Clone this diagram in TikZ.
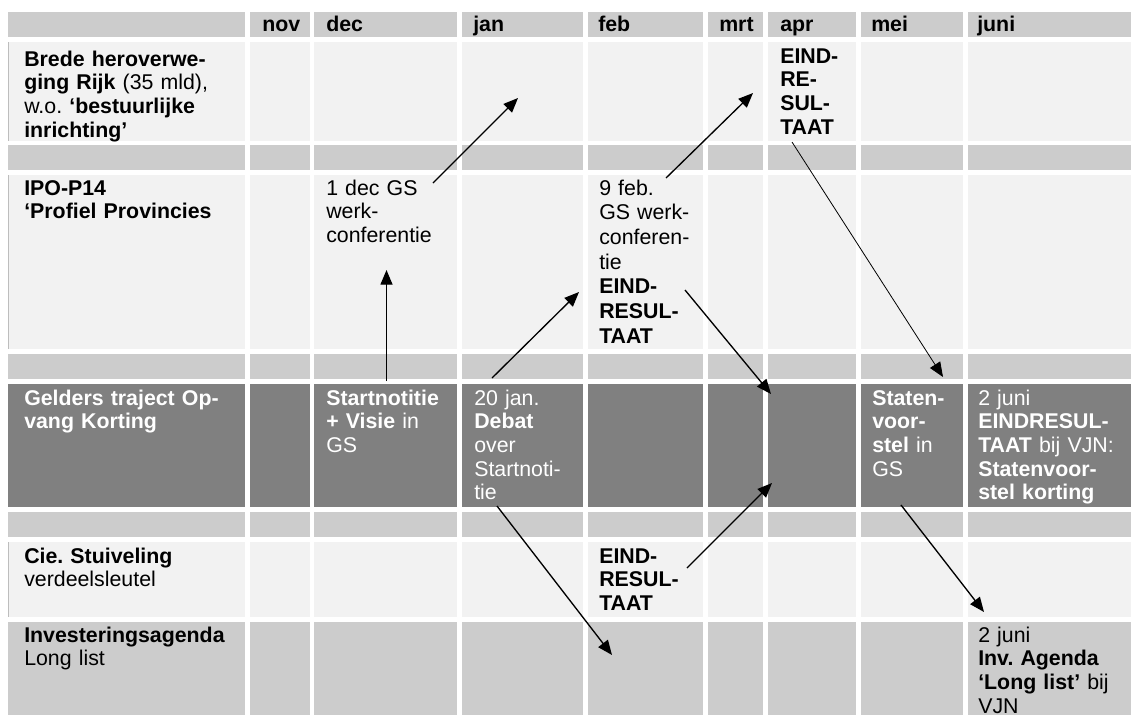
\documentclass[tikz,border=0pt]{standalone}
\usepackage{fontspec}
\setmainfont{Liberation Sans}
\usetikzlibrary{arrows.meta}
\definecolor{cLight}{HTML}{F2F2F2}
\definecolor{cMid}{HTML}{CCCCCC}
\definecolor{cDark}{HTML}{808080}
\definecolor{cEdge}{HTML}{BDBDBD}
\frenchspacing
\tikzset{
  celltext/.style={anchor=base west, inner sep=0pt, text width=300pt, align=left,
    font=\frenchspacing\fontsize{16}{17.8}\selectfont, text=black},
  hdrtext/.style={celltext, font=\bfseries\fontsize{16}{17.8}\selectfont},
  wtext/.style={celltext, text=white},
  loosetext/.style={celltext, font=\frenchspacing\fontsize{16}{18.5}\selectfont},
  conn/.style={line width=1pt, draw=black, -{Triangle[length=11pt,width=9pt]}},
  thinconn/.style={conn, line width=0.6pt},
}
\begin{document}
\begin{tikzpicture}[x=0.75pt,y=-0.75pt]
\useasboundingbox (0,0) rectangle (1131,715);
\clip (0,0) rectangle (1131,715);
\fill[white] (0,0) rectangle (1131,715);
% grid cells
\foreach \xa/\xb in {8/245,250/310,314/457,462/583,588/703,708/763,768/856,861/963,968/1131} {
  \foreach \ya/\yb/\c in {12/37/cMid,42/141/cLight,145/170/cMid,175/349/cLight,354/379/cMid,384/507/cDark,512/537/cMid,542/617/cLight,622/715/cMid}
    \fill[\c] (\xa,\ya) rectangle (\xb,\yb);
}
\foreach \ya/\yb in {42/141,175/349,542/617}
  \fill[cEdge] (8,\ya) rectangle (9.3,\yb);
% header
\node[hdrtext] (hnov)  at (262,31) {nov};
\node[hdrtext] (hdec)  at (326,31) {dec};
\node[hdrtext] (hjan)  at (473,31) {jan};
\node[hdrtext] (hfeb)  at (598,31) {feb};
\node[hdrtext] (hmrt)  at (719,31) {mrt};
\node[hdrtext] (hapr)  at (780,31) {apr};
\node[hdrtext] (hmei)  at (871,31) {mei};
\node[hdrtext] (hjuni) at (977,31) {juni};
% row 1
\node[celltext] (r1l) at (24,66) {\textbf{Brede heroverwe-}\\\textbf{ging Rijk} (35 mld),\\w.o. \textbf{‘bestuurlijke}\\\textbf{inrichting’}};
\node[celltext] (r1apr) at (780,63) {\textbf{EIND-}\\\textbf{RE-}\\\textbf{SUL-}\\\textbf{TAAT}};
% row 2
\node[celltext] (r2l) at (24,195) {\textbf{IPO-P14}\\\textbf{‘Profiel Provincies}};
\node[celltext] (r2dec) at (326,195) {1 dec GS\\werk-\\conferentie};
\node[loosetext] (r2feb) at (599,195) {9 feb.\\GS werk-\\conferen-\\tie\\\textbf{EIND-}\\\textbf{RESUL-}\\\textbf{TAAT}};
% row 3
\node[wtext] (r3l) at (24,405) {\textbf{Gelders traject Op-}\\\textbf{vang Korting}};
\node[wtext] (r3dec) at (326,405) {\textbf{Startnotitie}\\\textbf{+ Visie} in\\GS};
\node[wtext] (r3jan) at (474,405) {20 jan.\\\textbf{Debat}\\over\\Startnoti-\\tie};
\node[wtext] (r3mei) at (872,405) {\textbf{Staten-}\\\textbf{voor-}\\\textbf{stel} in\\GS};
\node[wtext] (r3juni) at (978,405) {2 juni\\\textbf{EINDRESUL-}\\\textbf{TAAT} bij VJN:\\\textbf{Statenvoor-}\\\textbf{stel korting}};
% row 4
\node[celltext] (r4l) at (24,563) {\textbf{Cie. Stuiveling}\\verdeelsleutel};
\node[celltext] (r4feb) at (599,563) {\textbf{EIND-}\\\textbf{RESUL-}\\\textbf{TAAT}};
% row 5
\node[celltext] (r5l) at (24,642) {\textbf{Investeringsagenda}\\Long list};
\node[celltext] (r5juni) at (978,642) {2 juni\\\textbf{Inv. Agenda}\\\textbf{‘Long list’} bij\\VJN};
% connector end points
\coordinate (a1s) at (433,183);   \coordinate (a1e) at (518,98);
\coordinate (a2s) at (666,178);   \coordinate (a2e) at (753,93);
\coordinate (a3s) at (792,142);   \coordinate (a3e) at (943,377);
\coordinate (a4s) at (386.5,381); \coordinate (a4e) at (386.5,270);
\coordinate (a5s) at (492,378);   \coordinate (a5e) at (579,292);
\coordinate (a6s) at (685,290);   \coordinate (a6e) at (771,394);
\coordinate (a7s) at (687,568);   \coordinate (a7e) at (772,483);
\coordinate (a8s) at (497,506);   \coordinate (a8e) at (612,655);
\coordinate (a9s) at (901,505);   \coordinate (a9e) at (984,612);
\draw[conn] (a1s) -- (a1e);
\draw[conn] (a2s) -- (a2e);
\draw[thinconn] (a3s) -- (a3e);
\draw[conn] (a4s) -- (a4e);
\draw[conn] (a5s) -- (a5e);
\draw[conn] (a6s) -- (a6e);
\draw[conn] (a7s) -- (a7e);
\draw[conn] (a8s) -- (a8e);
\draw[conn] (a9s) -- (a9e);
\end{tikzpicture}
\end{document}
